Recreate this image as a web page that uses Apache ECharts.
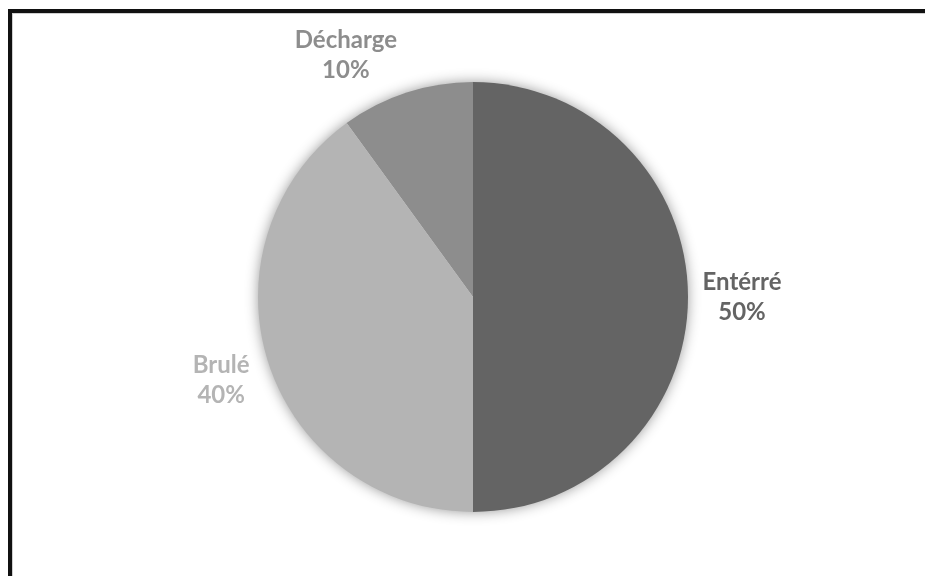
<!DOCTYPE html>
<html>
<head>
<meta charset="utf-8">
<script src="https://cdn.jsdelivr.net/npm/echarts@6/dist/echarts.min.js"></script>
<style>
  html, body { margin: 0; padding: 0; background: #fff; overflow: hidden; }
  #wrap { position: relative; width: 925px; height: 576px; overflow: hidden; }
  .bar { position: absolute; background: #111; }
  #echart { position: absolute; left: 0; top: 0; width: 925px; height: 576px; }
</style>
</head>
<body>
<div id="wrap">
  <div class="bar" style="left:8px; top:9px; width:917px; height:4px;"></div>
  <div class="bar" style="left:8px; top:9px; width:4px; height:567px;"></div>
  <div class="bar" style="left:12px; top:13px; width:913px; height:1px; background:#d0d0d0;"></div>
  <div class="bar" style="left:12px; top:13px; width:1px; height:563px; background:#d0d0d0;"></div>
  <div id="echart"></div>
</div>
<script>
// les données du camembert
var categories = ['Entérré', 'Brulé', 'Décharge'];
var values = [50, 40, 10];

var cx = 473, cy = 297, r = 215;

var total = values.reduce(function (a, b) { return a + b; }, 0);

var myChart = echarts.init(document.getElementById('echart'));

// position des étiquettes : le long de la bissectrice de chaque part
function placeLabel(params) {
    var i = params.dataIndex;
    var before = 0;
    for (var k = 0; k < i; k++) before += values[k];
    var mid = (before + values[i] / 2) / total * Math.PI * 2;
    var d = r + 54;
    var x = cx + d * Math.sin(mid);
    var y = cy - d * Math.cos(mid);
    if (i === 2) { x -= 44; y += 14; } // petite part : étiquette décalée comme dans Excel
    if (i === 1) { x += 4; }
    return { x: x, y: y, align: 'center', verticalAlign: 'middle' };
}

myChart.setOption({
    animation: false,
    color: ['#646464', '#b4b4b4', '#8d8d8d'],
    series: [
        {
            // ombre douce sous le camembert
            type: 'pie',
            silent: true,
            center: [cx, cy],
            radius: r - 1,
            label: { show: false },
            itemStyle: { color: '#ffffff', shadowBlur: 14, shadowColor: 'rgba(0,0,0,0.45)' },
            data: [1],
            z: 1
        },
        {
            type: 'pie',
            center: [cx, cy],
            radius: r,
            startAngle: 90,
            clockwise: true,
            itemStyle: { borderWidth: 0 },
            label: {
                show: true,
                position: 'outside',
                formatter: '{b}\n{d}%',
                color: 'inherit',
                fontFamily: 'Lato',
                fontWeight: 'bold',
                fontSize: 24,
                lineHeight: 30
            },
            labelLine: { show: false },
            labelLayout: placeLabel,
            data: categories.map(function (c, i) {
                return { name: c, value: values[i] };
            }),
            z: 2
        }
    ]
});
</script>
</body>
</html>
